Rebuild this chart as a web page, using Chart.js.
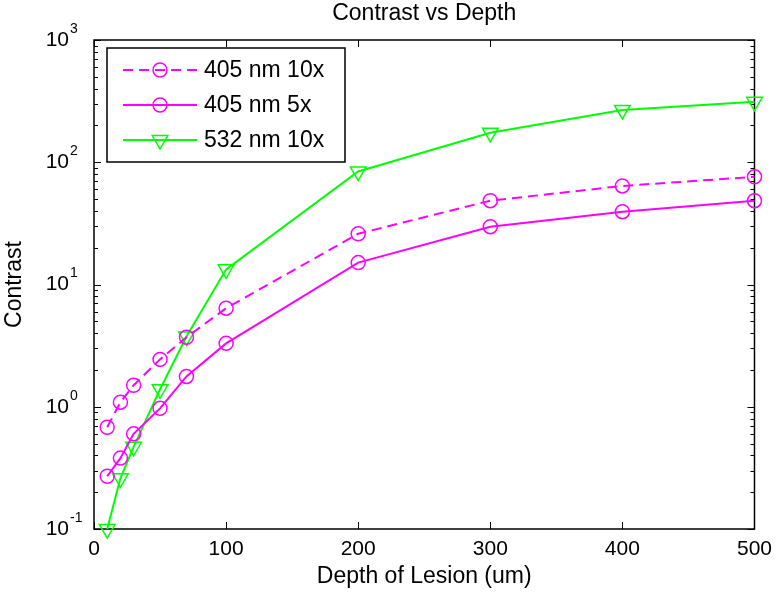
<!DOCTYPE html>
<html>
<head>
<meta charset="utf-8">
<title>Contrast vs Depth</title>
<script src="https://cdn.jsdelivr.net/npm/chart.js@4.4.0/dist/chart.umd.min.js"></script>
<style>
  html, body { margin: 0; padding: 0; background: #fff; }
  #wrap { width: 780px; height: 598px; }
</style>
</head>
<body>
<div id="wrap"><canvas id="chart-contrast"></canvas></div>
<script>
// ── Data ──
const depths         = [10, 20, 30, 50, 70, 100, 200, 300, 400, 500];
const contrast405x10 = [0.68, 1.09, 1.5, 2.44, 3.7, 6.4, 26, 48.5, 64, 76];
const contrast405x5  = [0.27, 0.38, 0.60, 0.97, 1.77, 3.3, 15.1, 29.7, 39.4, 48.5];
const contrast532x10 = [0.1, 0.26, 0.47, 1.39, 3.76, 13.3, 84, 174, 268, 312];
const seriesNames    = ['405 nm 10x', '405 nm 5x', '532 nm 10x'];
const xTicks         = [0, 100, 200, 300, 400, 500];
const yExponents     = [-1, 0, 1, 2, 3];

const FONT = '"Liberation Sans", Arial, Helvetica, sans-serif';
const MAGENTA = '#ff00ff';
const GREEN   = '#00ff00';

const toPoints = vals => depths.map((d, i) => ({ x: d, y: vals[i] }));

// ── Frame + inward ticks (MATLAB style box) ──
const framePlugin = {
  id: 'frame',
  beforeDatasetsDraw(chart) {
    const { ctx, chartArea: a, scales: { x, y } } = chart;
    ctx.save();
    ctx.strokeStyle = '#000';
    ctx.lineWidth = 1.5;
    ctx.strokeRect(a.left, a.top, a.right - a.left, a.bottom - a.top);

    ctx.lineWidth = 1;
    ctx.beginPath();
    xTicks.forEach(v => {
      const px = Math.round(x.getPixelForValue(v)) + 0.5;
      ctx.moveTo(px, a.bottom); ctx.lineTo(px, a.bottom - 7);
      ctx.moveTo(px, a.top);    ctx.lineTo(px, a.top + 7);
    });
    yExponents.forEach(e => {
      for (let m = 1; m <= 9; m++) {
        const v = m * Math.pow(10, e);
        if (v > y.max * 1.0001) break;
        const py = Math.round(y.getPixelForValue(v)) + 0.5;
        const len = m === 1 ? 7 : 4;
        ctx.moveTo(a.left, py);  ctx.lineTo(a.left + len, py);
        ctx.moveTo(a.right, py); ctx.lineTo(a.right - len, py);
      }
    });
    ctx.stroke();
    ctx.restore();
  },
  afterDraw(chart) {
    // power-of-ten tick labels with raised exponents
    const { ctx, scales: { y } } = chart;
    ctx.save();
    ctx.fillStyle = '#000';
    ctx.textBaseline = 'middle';
    yExponents.forEach(e => {
      const py = y.getPixelForValue(Math.pow(10, e));
      ctx.font = `21px ${FONT}`;
      ctx.textAlign = 'right';
      ctx.fillText('10', 69, py);
      ctx.font = `14px ${FONT}`;
      ctx.textAlign = 'left';
      ctx.fillText(String(e), 70, py - 11);
    });
    ctx.restore();
  }
};

// ── Legend box: line sample + marker per series ──
const legendPlugin = {
  id: 'boxLegend',
  afterDatasetsDraw(chart) {
    const { ctx } = chart;
    const box = { x: 107, y: 48, w: 238, h: 114 };
    const rows = [70, 105, 140];
    ctx.save();
    ctx.fillStyle = '#fff';
    ctx.fillRect(box.x, box.y, box.w, box.h);
    ctx.strokeStyle = '#000';
    ctx.lineWidth = 1.5;
    ctx.strokeRect(box.x, box.y, box.w, box.h);

    chart.data.datasets.forEach((ds, i) => {
      const ry = rows[i];
      ctx.strokeStyle = ds.borderColor;
      ctx.lineWidth = ds.borderWidth;
      ctx.setLineDash(ds.borderDash || []);
      ctx.beginPath();
      ctx.moveTo(123, ry); ctx.lineTo(197, ry);
      ctx.stroke();
      ctx.setLineDash([]);
      ctx.lineWidth = ds.pointBorderWidth;
      ctx.fillStyle = 'rgba(0,0,0,0)';
      Chart.helpers.drawPoint(ctx, {
        pointStyle: ds.pointStyle,
        rotation: ds.pointRotation || 0,
        radius: ds.pointRadius,
        borderWidth: ds.pointBorderWidth
      }, 160, ry);
      ctx.fillStyle = '#000';
      ctx.font = `23px ${FONT}`;
      ctx.textAlign = 'left';
      ctx.textBaseline = 'middle';
      ctx.fillText(ds.label, 204, ry + 1);
    });
    ctx.restore();
  }
};

const seriesStyle = (color, dash, style, radius, rotation) => ({
  borderColor: color,
  borderWidth: 2,
  borderDash: dash,
  pointStyle: style,
  pointRadius: radius,
  pointHoverRadius: radius,
  pointRotation: rotation,
  pointBorderColor: color,
  pointBackgroundColor: 'rgba(0,0,0,0)',
  pointBorderWidth: 1.5,
  fill: false,
  tension: 0,
  clip: false
});

new Chart(document.getElementById('chart-contrast'), {
  type: 'line',
  data: {
    datasets: [
      { label: seriesNames[0], data: toPoints(contrast405x10), ...seriesStyle(MAGENTA, [10, 6], 'circle', 7, 0) },
      { label: seriesNames[1], data: toPoints(contrast405x5),  ...seriesStyle(MAGENTA, [], 'circle', 7, 0) },
      { label: seriesNames[2], data: toPoints(contrast532x10), ...seriesStyle(GREEN, [], 'triangle', 9, 180) }
    ]
  },
  options: {
    responsive: true,
    maintainAspectRatio: false,
    animation: false,
    layout: { padding: { left: 0, right: 22, top: 0, bottom: 0 } },
    plugins: {
      legend: { display: false },
      tooltip: { enabled: false },
      title: {
        display: true,
        text: 'Contrast vs Depth',
        color: '#000',
        fullSize: false,
        font: { family: FONT, size: 23, weight: 'normal' },
        padding: { top: 0, bottom: 12.4 }
      }
    },
    scales: {
      x: {
        type: 'linear',
        min: 0, max: 500,
        afterBuildTicks: s => { s.ticks = xTicks.map(v => ({ value: v })); },
        afterFit: s => { s.height = 69; },
        grid: { display: false, drawTicks: false },
        border: { display: false },
        ticks: { color: '#000', padding: 8, maxRotation: 0, font: { family: FONT, size: 21 } },
        title: {
          display: true,
          text: 'Depth of Lesion (um)',
          color: '#000',
          font: { family: FONT, size: 23 },
          padding: { top: 0, bottom: 8 }
        }
      },
      y: {
        type: 'logarithmic',
        min: 0.1, max: 1000,
        afterFit: s => { s.width = 94; },
        grid: { display: false, drawTicks: false },
        border: { display: false },
        ticks: { display: false },
        title: {
          display: true,
          text: 'Contrast',
          color: '#000',
          font: { family: FONT, size: 23 },
          padding: { top: 1, bottom: 0 }
        }
      }
    }
  },
  plugins: [framePlugin, legendPlugin]
});
</script>
</body>
</html>
